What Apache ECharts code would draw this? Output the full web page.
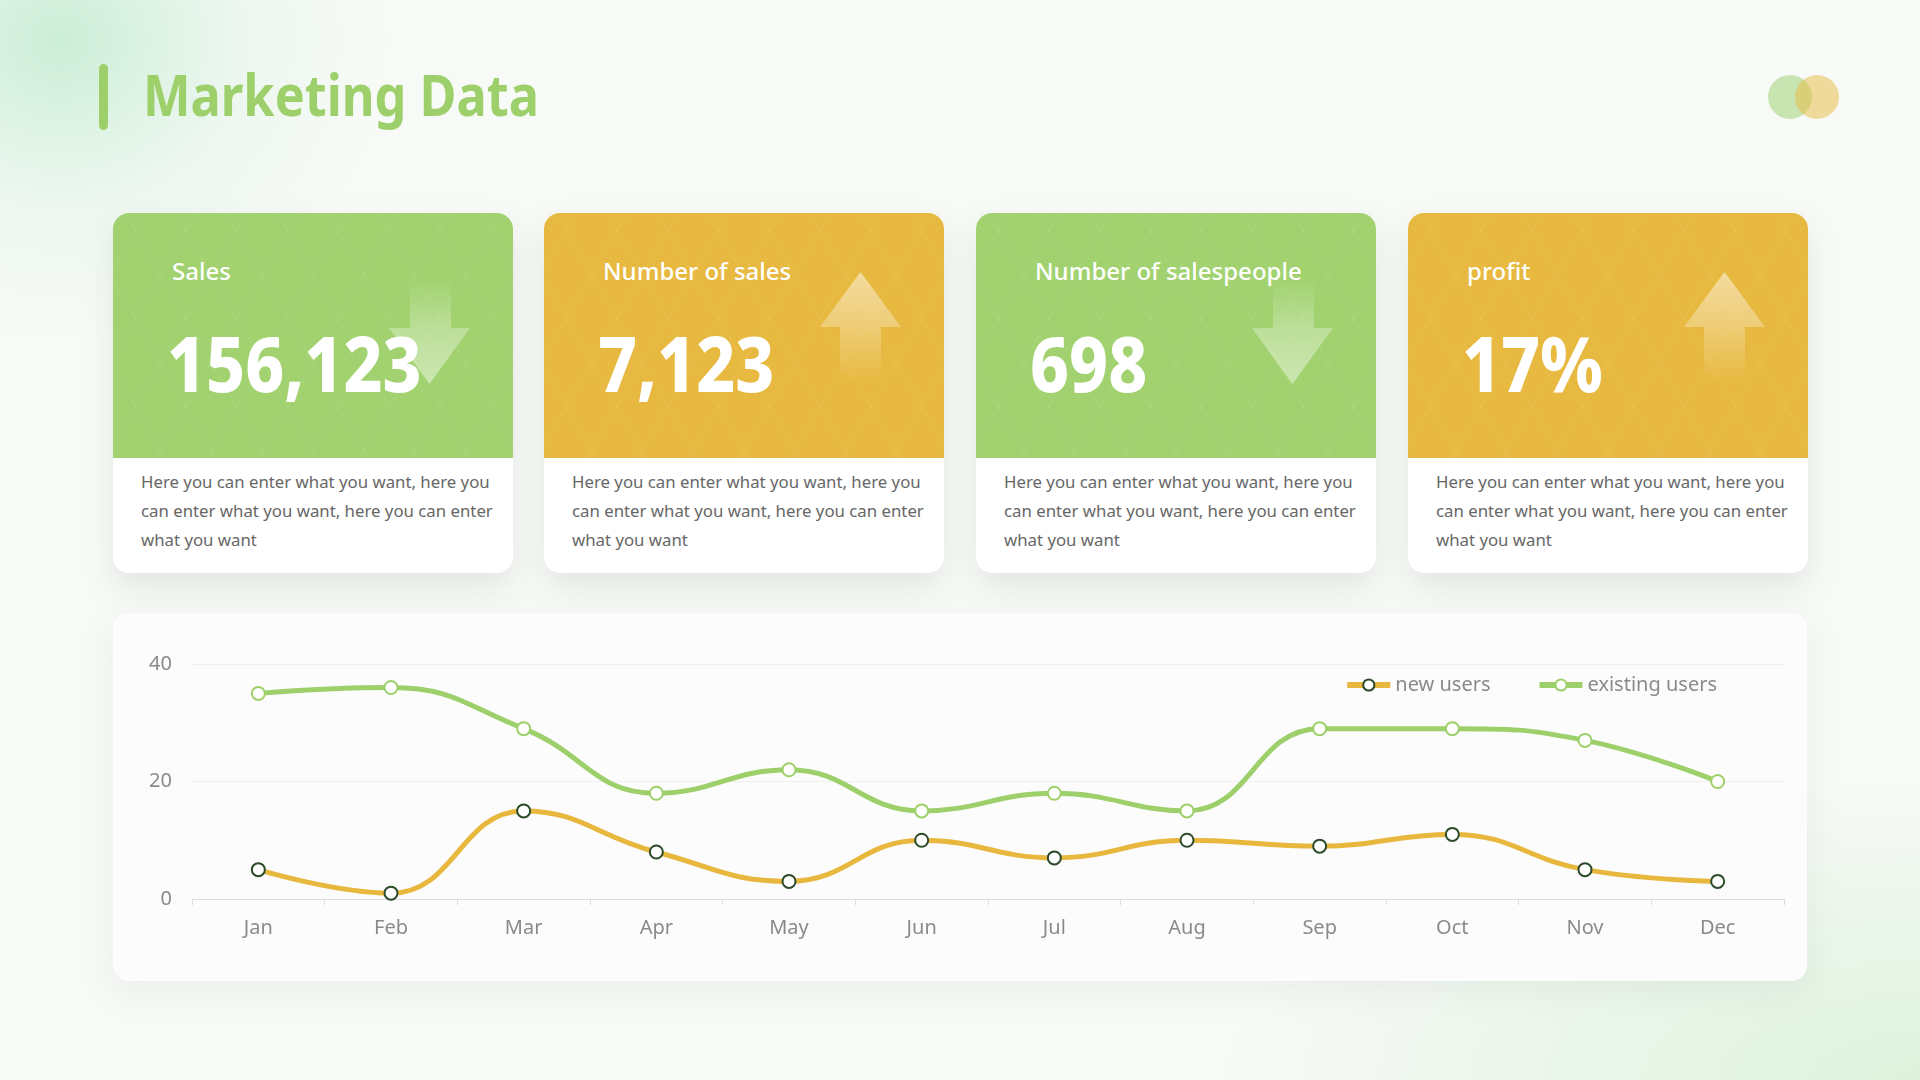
<!DOCTYPE html>
<html>
<head>
<meta charset="utf-8">
<script src="https://cdn.jsdelivr.net/npm/echarts@6/dist/echarts.min.js"></script>
<style>
  html, body { margin:0; padding:0; width:1920px; height:1080px; overflow:hidden; }
  body {
    position:relative;
    font-family: "Noto Sans", "Open Sans", sans-serif;
    background:
      radial-gradient(ellipse 330px 300px at 60px 40px, rgba(196,236,210,0.85), rgba(220,243,228,0.4) 55%, rgba(248,250,247,0) 100%),
      radial-gradient(ellipse 700px 300px at 1920px 1080px, rgba(214,240,214,0.8), rgba(248,250,247,0) 100%),
      #f8faf7;
  }
  .bar { position:absolute; left:99px; top:64px; width:9px; height:66px; border-radius:5px; background:#9dd06a; }
  .title { position:absolute; left:143px; top:56px; font-size:58px; font-weight:700; color:#9dd06a; line-height:76px;
           transform: scaleX(0.87); transform-origin: left center; white-space:nowrap; }
  .dot { position:absolute; width:44px; height:44px; border-radius:50%; top:75px; }
  .card { position:absolute; top:213px; width:400px; height:360px; border-radius:16px; background:#fff; overflow:hidden;
          box-shadow: 0 14px 30px rgba(120,130,120,0.16); }
  .card .top { position:absolute; left:0; top:0; width:100%; height:245px; }
  .card .top.g { background:
      repeating-linear-gradient(60deg, rgba(255,255,255,0.04) 0 2px, transparent 2px 44px),
      repeating-linear-gradient(-60deg, rgba(255,255,255,0.04) 0 2px, transparent 2px 44px),
      #a1d26f; }
  .card .top.o { background:
      repeating-linear-gradient(60deg, rgba(255,255,255,0.035) 0 2px, transparent 2px 44px),
      repeating-linear-gradient(-60deg, rgba(255,255,255,0.035) 0 2px, transparent 2px 44px),
      #e8b940; }
  .card .lbl { position:absolute; left:59px; top:40px; color:#fff; font-size:24px; font-weight:500; line-height:36px; }
  .card .num { position:absolute; left:54px; top:100px; color:#fff; font-size:76px; font-weight:800; line-height:100px;
               transform: scaleX(0.89); transform-origin: left center; white-space:nowrap; }
  .card .desc { position:absolute; left:28px; top:255px; width:362px; color:#676767; font-size:16.8px; line-height:28.8px; }
  .arrow { position:absolute; left:276px; width:81px; }
  .arrow.down { top:66px; height:105px;
      clip-path: polygon(21px 0, 62px 0, 62px 49px, 81px 49px, 40.5px 105px, 0 49px, 21px 49px);
      background: linear-gradient(to bottom, rgba(255,255,255,0) 0%, rgba(255,255,255,0.3) 50%, rgba(255,255,255,0.45) 100%); }
  .arrow.up { top:59px; height:110px;
      clip-path: polygon(40.5px 0, 81px 55px, 61px 55px, 61px 110px, 20px 110px, 20px 55px, 0 55px);
      background: linear-gradient(to bottom, rgba(255,255,255,0.5) 0%, rgba(255,255,255,0.3) 45%, rgba(255,255,255,0) 100%); }
  .panel { position:absolute; left:113px; top:613px; width:1694px; height:368px; border-radius:16px; background:#fcfcfc;
           box-shadow: 0 10px 34px rgba(120,130,120,0.10); }
  #chart { position:absolute; left:0; top:0; width:1920px; height:1080px; }
</style>
</head>
<body>
<div class="bar"></div>
<div class="title">Marketing Data</div>
<div class="dot" style="left:1768px;background:rgba(160,210,120,0.55);"></div>
<div class="dot" style="left:1795px;background:rgba(232,185,64,0.5);"></div>

<div id="cards"></div>
<div class="panel"></div>
<div id="chart"></div>

<script>
// ---- data ----
const cardLabels = ["Sales", "Number of sales", "Number of salespeople", "profit"];
const cardValues = ["156,123", "7,123", "698", "17%"];
const cardTrend = ["down", "up", "down", "up"];
const cardDesc = "Here you can enter what you want, here you can enter what you want, here you can enter what you want";

const months = ["Jan","Feb","Mar","Apr","May","Jun","Jul","Aug","Sep","Oct","Nov","Dec"];
const newUsers = [5, 1, 15, 8, 3, 10, 7, 10, 9, 11, 5, 3];
const existingUsers = [35, 36, 29, 18, 22, 15, 18, 15, 29, 29, 27, 20];
const yTicks = { min: 0, max: 40, interval: 20 };

// ---- cards ----
const cardLefts = [113, 544, 976, 1408];
const host = document.getElementById('cards');
cardLabels.forEach((lbl, i) => {
  const c = document.createElement('div');
  c.className = 'card';
  c.style.left = cardLefts[i] + 'px';
  const cls = i % 2 === 0 ? 'g' : 'o';
  c.innerHTML =
    '<div class="top ' + cls + '"></div>' +
    '<div class="arrow ' + cardTrend[i] + '"></div>' +
    '<div class="lbl">' + lbl + '</div>' +
    '<div class="num">' + cardValues[i] + '</div>' +
    '<div class="desc">' + cardDesc + '</div>';
  host.appendChild(c);
});

// ---- chart ----
const chart = echarts.init(document.getElementById('chart'), null, { renderer: 'canvas' });
chart.setOption({
  backgroundColor: 'transparent',
  animation: false,
  grid: { left: 192, right: 136, top: 664, bottom: 181 },
  legend: {
    right: 198, top: 670,
    itemWidth: 43, itemHeight: 14, itemGap: 46,
    lineStyle: { width: 6 },
    textStyle: { color: '#8a8a8a', fontSize: 20, fontFamily: 'Noto Sans' },
    data: ['new users', 'existing users']
  },
  xAxis: {
    type: 'category',
    data: months,
    boundaryGap: true,
    axisLine: { lineStyle: { color: '#dcdcdc', width: 1 } },
    axisTick: { show: true, length: 6, lineStyle: { color: '#dcdcdc' } },
    axisLabel: { color: '#8a8a8a', fontSize: 20, margin: 19, fontFamily: 'Noto Sans' }
  },
  yAxis: {
    type: 'value',
    min: yTicks.min, max: yTicks.max, interval: yTicks.interval,
    axisLine: { show: false },
    axisTick: { show: false },
    splitLine: { lineStyle: { color: '#efefef', width: 1 } },
    axisLabel: { color: '#8a8a8a', fontSize: 20, margin: 20, fontFamily: 'Noto Sans' }
  },
  series: [
    {
      name: 'new users', type: 'line', smooth: 0.45, data: newUsers,
      symbol: 'circle', symbolSize: 13,
      lineStyle: { color: '#e8b83e', width: 5 },
      itemStyle: { color: '#ffffff', borderColor: '#2c4a2a', borderWidth: 2 },
      z: 3
    },
    {
      name: 'existing users', type: 'line', smooth: 0.45, data: existingUsers,
      symbol: 'circle', symbolSize: 13,
      lineStyle: { color: '#9dd06a', width: 5 },
      itemStyle: { color: '#ffffff', borderColor: '#9dd06a', borderWidth: 2 },
      z: 2
    }
  ]
});
</script>
</body>
</html>
